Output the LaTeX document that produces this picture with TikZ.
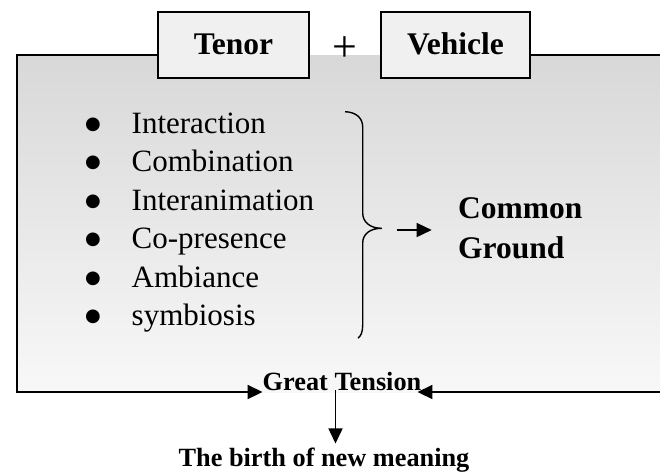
\documentclass[tikz,border=0pt]{standalone}
\usepackage{fontspec}
\setmainfont{Liberation Serif}
\newfontfamily\markfont{DejaVu Sans}
\usetikzlibrary{arrows.meta}
\definecolor{panelTop}{RGB}{216,216,216}
\definecolor{panelBottom}{RGB}{248,248,248}
\definecolor{termFill}{RGB}{240,240,240}
\tikzset{
  termbox/.style={draw, line width=1.3pt, fill=termFill, minimum height=66pt,
    inner sep=0pt, font=\fontsize{31.5}{36}\selectfont\bfseries},
  frame/.style={line width=2pt},
  flow/.style={line width=1.5pt, -{Triangle[length=15pt,width=14pt]}},
  listitem/.style={anchor=base west, inner sep=0pt, font=\fontsize{31}{38}\selectfont},
  caption/.style={inner sep=0pt, font=\fontsize{26.3}{30}\selectfont\bfseries},
}
\newcommand{\listmark}{\makebox[46.5pt][l]{\raisebox{4pt}{\markfont\fontsize{18}{20}\selectfont ●}}}
\begin{document}
\begin{tikzpicture}[x=1pt,y=-1pt]
\useasboundingbox (0,0) rectangle (660,472);

% shaded panel
\coordinate (tl) at (17,55);
\coordinate (bl) at (17,392);
\coordinate (tr) at (660,55);
\coordinate (br) at (660,392);
\shade[top color=panelTop, bottom color=panelBottom] (tl) rectangle (br);

% the two terms
\node[termbox, minimum width=151pt, text depth=2pt] (tenor) at (233.5,45) {Tenor};
\node[termbox, minimum width=149pt, text depth=2pt] (vehicle) at (455.5,45) {Vehicle};
\node[inner sep=0pt, font=\fontsize{44}{46}\selectfont] (plus) at (345,49) {+};

% list of relations
\foreach \t [count=\i] in {Interaction,Combination,Interanimation,Co-presence,Ambiance,symbiosis}
  \node[listitem] (item\i) at (85,{133.3+(\i-1)*38.5}) {\listmark\t};

% brace gathering the list
\coordinate (bracetip) at (381.7,228.3);
\draw[line width=1.4pt] (345,111.7) .. controls (356,112) and (362.7,118) .. (362.7,127)
  -- (362.7,213) .. controls (362.7,222) and (370,228.3) .. (bracetip)
  .. controls (370,228.3) and (362.7,234) .. (362.7,243)
  -- (362.7,325) .. controls (362.7,332) and (361,336) .. (358,338);

\node[anchor=north west, inner sep=0pt, align=left,
  font=\fontsize{31.5}{40}\selectfont\bfseries] (ground) at (458,197) {Common\\Ground};
\coordinate (gtail) at (396.7,230);
\draw[flow, shorten >=26.3pt] (gtail) -- (gtail -| ground.west);

% bottom captions
\node[caption, anchor=base] (tension) at (342,390) {Great Tension};
\node[caption, anchor=base, outer ysep=4pt] (birth) at (324,466) {The birth of new meaning};

% panel frame
\draw[frame, -{Triangle[length=15pt,width=14pt]}] (tenor.west |- tl) -- (tl) -- (bl) -- (bl -| tension.west);
\draw[frame] (vehicle.east |- tr) -- (tr);
\draw[frame, -{Triangle[length=15pt,width=14pt]}] (br) -- ([xshift=-4pt]br -| tension.east);

\coordinate (drop) at ([xshift=-6.5pt]tension.south);
\draw[flow] (drop) -- (drop |- birth.north);
\end{tikzpicture}
\end{document}
